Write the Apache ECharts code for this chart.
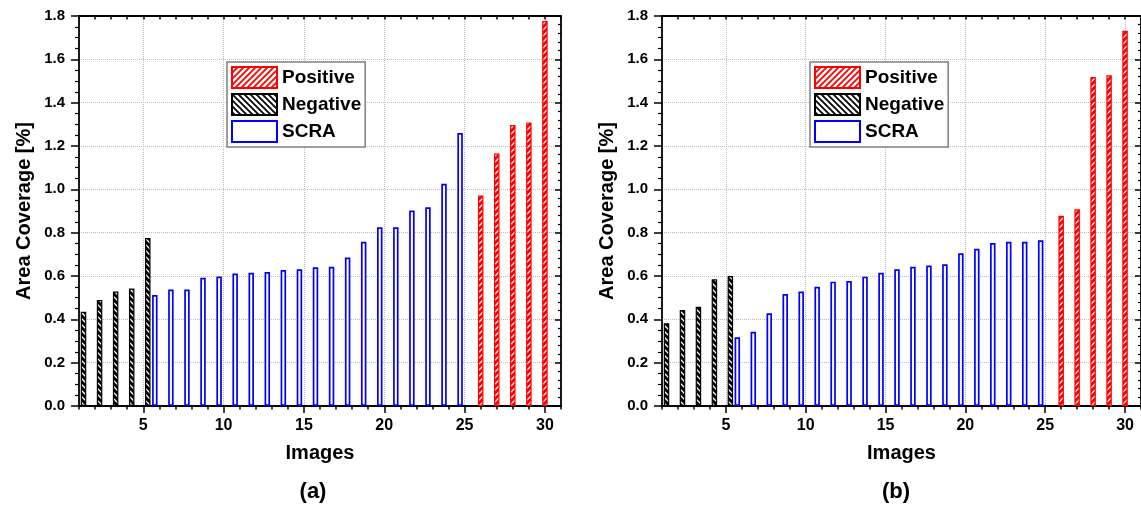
<!DOCTYPE html>
<html>
<head>
<meta charset="utf-8">
<script src="https://cdn.jsdelivr.net/npm/echarts@6/dist/echarts.min.js"></script>
<style>
  html, body { margin: 0; padding: 0; background: #fff; }
  #chart { width: 1141px; height: 508px; }
</style>
</head>
<body>
<div id="chart"></div>
<script>
  // image numbers on the x axis
  const images = [1, 2, 3, 4, 5, 6, 7, 8, 9, 10, 11, 12, 13, 14, 15,
                  16, 17, 18, 19, 20, 21, 22, 23, 24, 25, 26, 27, 28, 29, 30];
  const xTicks = [5, 10, 15, 20, 25, 30];

  // panel (a)
  const negA = [0.435, 0.489, 0.528, 0.542, 0.775];
  const scraA = [0.512, 0.538, 0.538, 0.592, 0.598, 0.611, 0.615, 0.618, 0.628, 0.631,
                 0.640, 0.643, 0.685, 0.758, 0.825, 0.825, 0.902, 0.917, 1.026, 1.26];
  const posA = [0.972, 1.165, 1.297, 1.309, 1.777];

  // panel (b)
  const negB = [0.382, 0.443, 0.458, 0.585, 0.600];
  const scraB = [0.317, 0.343, 0.428, 0.517, 0.528, 0.55, 0.574, 0.577, 0.597, 0.615,
                 0.631, 0.643, 0.648, 0.654, 0.705, 0.726, 0.752, 0.758, 0.758, 0.765];
  const posB = [0.878, 0.908, 1.518, 1.526, 1.732];

  const FONT = 'Liberation Sans, Arial, sans-serif';

  // diagonal hatch fill
  function hatch(color, lw, dir) {
    const c = document.createElement('canvas');
    c.width = c.height = 6;
    const g = c.getContext('2d');
    g.fillStyle = '#fff';
    g.fillRect(0, 0, 6, 6);
    g.strokeStyle = color;
    g.lineWidth = lw;
    g.beginPath();
    if (dir > 0) {
      g.moveTo(-1, 7); g.lineTo(7, -1);
      g.moveTo(-1, 1); g.lineTo(1, -1);
      g.moveTo(5, 7); g.lineTo(7, 5);
    } else {
      g.moveTo(-1, -1); g.lineTo(7, 7);
      g.moveTo(5, -1); g.lineTo(7, 1);
      g.moveTo(-1, 5); g.lineTo(1, 7);
    }
    g.stroke();
    return { image: c, repeat: 'repeat' };
  }

  const redBar = hatch('#ff0000', 3, 1);
  const blackBar = hatch('#000000', 3, -1);
  const redLeg = hatch('#ff0000', 1.8, 1);
  const blackLeg = hatch('#000000', 1.8, -1);

  const pairs = (xs, ys) => ys.map((v, i) => [xs[i], v]);

  const option = {
    animation: false,
    backgroundColor: '#fff',
    grid: [],
    xAxis: [],
    yAxis: [],
    legend: [],
    series: [],
    graphic: []
  };

  function addPanel(p, left, label, neg, scra, pos) {
    option.grid.push({ left: left, top: 16, width: 482, height: 390 });

    const axisLine = { show: true, onZero: false, lineStyle: { color: '#000', width: 1.8 } };
    const tickLine = { color: '#000', width: 1.5 };
    const dotted = { show: true, lineStyle: { type: 'dotted', color: '#bdbdbd', width: 1 } };

    // bottom: minor ticks + labels + line
    option.xAxis.push({
      type: 'value', gridIndex: p, min: 1, max: 31, interval: 1, position: 'bottom',
      axisLine: axisLine,
      axisTick: { show: true, length: 3.5, lineStyle: tickLine },
      axisLabel: { customValues: xTicks, margin: 12, color: '#000', fontSize: 16, fontWeight: 'bold', fontFamily: FONT },
      splitLine: { show: false },
      name: 'Images', nameLocation: 'middle', nameGap: 37,
      nameTextStyle: { color: '#000', fontSize: 20, fontWeight: 'bold', fontFamily: FONT }
    });
    // bottom: major ticks + grid
    option.xAxis.push({
      type: 'value', gridIndex: p, min: 1, max: 31, position: 'bottom',
      axisLine: { show: false },
      axisTick: { show: true, customValues: xTicks, length: 7, lineStyle: tickLine },
      axisLabel: { show: false },
      splitLine: dotted
    });
    // top mirror
    option.xAxis.push({
      type: 'value', gridIndex: p, min: 1, max: 31, interval: 1, position: 'top',
      axisLine: axisLine,
      axisTick: { show: true, inside: true, length: 3.5, lineStyle: tickLine },
      axisLabel: { show: false }, splitLine: { show: false }
    });
    option.xAxis.push({
      type: 'value', gridIndex: p, min: 1, max: 31, position: 'top',
      axisLine: { show: false },
      axisTick: { show: true, inside: true, customValues: xTicks, length: 6, lineStyle: tickLine },
      axisLabel: { show: false }, splitLine: { show: false }
    });

    option.yAxis.push({
      type: 'value', gridIndex: p, min: 0, max: 1.8, interval: 0.2, position: 'left',
      axisLine: axisLine,
      axisTick: { show: true, length: 8, lineStyle: tickLine },
      minorTick: { show: true, splitNumber: 4, length: 4, lineStyle: { color: '#000', width: 1.2 } },
      axisLabel: { margin: 14, color: '#000', fontSize: 15, fontWeight: 'bold', fontFamily: FONT,
                   formatter: v => v.toFixed(1) },
      splitLine: dotted,
      name: 'Area Coverage [%]', nameLocation: 'middle', nameGap: 45,
      nameTextStyle: { color: '#000', fontSize: 20, fontWeight: 'bold', fontFamily: FONT }
    });
    option.yAxis.push({
      type: 'value', gridIndex: p, min: 0, max: 1.8, interval: 0.2, position: 'right',
      axisLine: axisLine,
      axisTick: { show: true, inside: true, length: 6, lineStyle: tickLine },
      minorTick: { show: true, splitNumber: 5, length: 3, lineStyle: { color: '#000', width: 1.2 } },
      axisLabel: { show: false }, splitLine: { show: false }
    });

    const common = {
      type: 'bar', xAxisIndex: p * 4, yAxisIndex: p * 2,
      barWidth: 5.5, barGap: '-18%'
    };
    option.series.push(Object.assign({}, common, {
      name: 'SCRA',
      data: pairs(images.slice(5, 25), scra),
      itemStyle: { color: '#fff', borderColor: '#0000ff', borderWidth: 1.7 }
    }));
    option.series.push(Object.assign({}, common, {
      name: 'Positive',
      data: pairs(images.slice(25, 30), pos),
      itemStyle: { color: redBar, borderColor: '#ff0000', borderWidth: 1.2 }
    }));
    option.series.push(Object.assign({}, common, {
      name: 'Negative',
      data: pairs(images.slice(0, 5), neg),
      itemStyle: { color: blackBar, borderColor: '#000', borderWidth: 1.2 }
    }));

    option.legend.push({
      orient: 'vertical', left: left + 148, top: 62,
      icon: 'rect', itemWidth: 45, itemHeight: 21, itemGap: 4,
      padding: [4, 4, 4, 4],
      backgroundColor: '#fff', borderColor: '#7f7f7f', borderWidth: 1.5,
      textStyle: { color: '#000', fontSize: 19, fontWeight: 'bold', fontFamily: FONT },
      data: [
        { name: 'Positive', itemStyle: { color: redLeg, borderColor: '#ff0000', borderWidth: 2 } },
        { name: 'Negative', itemStyle: { color: blackLeg, borderColor: '#000', borderWidth: 2 } },
        { name: 'SCRA', itemStyle: { color: '#fff', borderColor: '#0000ff', borderWidth: 2 } }
      ]
    });

    option.graphic.push({
      type: 'text', x: left + 234, y: 492,
      style: { text: label, align: 'center', verticalAlign: 'middle',
               fill: '#000', font: 'bold 22px ' + FONT }
    });
  }

  addPanel(0, 79, '(a)', negA, scraA, posA);
  addPanel(1, 662, '(b)', negB, scraB, posB);

  const chart = echarts.init(document.getElementById('chart'));
  chart.setOption(option);
</script>
</body>
</html>
